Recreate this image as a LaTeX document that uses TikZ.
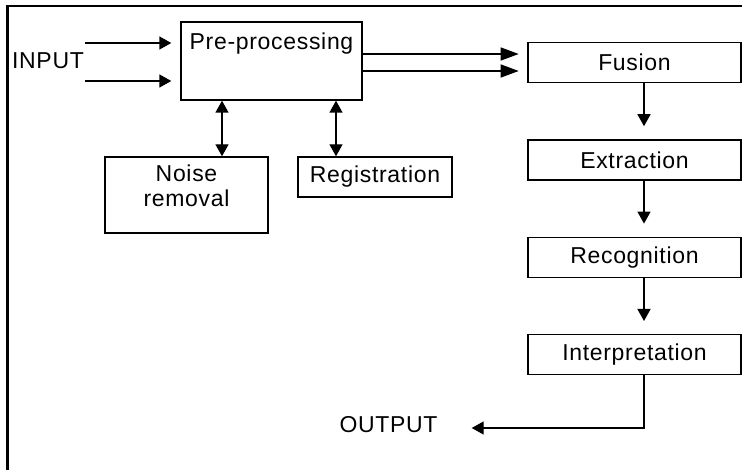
\documentclass[tikz,border=0pt]{standalone}
\usepackage{fontspec}
\setmainfont{Liberation Sans}[LetterSpace=3]
\usetikzlibrary{%
  arrows.meta,%
  calc,%
  positioning}

\begin{document}
\begin{tikzpicture}[x=1pt,y=-1pt,
  font=\fontsize{23}{25}\selectfont,
  blok/.style={rectangle,draw,line width=1.4pt,inner sep=0pt},
  pil/.style={line width=1.4pt,-{Triangle[length=12pt,width=13pt]}},
  lpil/.style={line width=1.4pt,-{Triangle[length=18pt,width=13pt]}},
  dpil/.style={line width=1.4pt,{Triangle[length=12pt,width=13pt]}-{Triangle[length=12pt,width=13pt]}}]
\useasboundingbox (0,0) rectangle (742,470);
% cadre
\draw[line width=2.6pt] (742,6) -- (7.5,6) -- (7.5,470);
% description et nommage des noeuds
\node (inp) at (48,61) [inner sep=0pt] {INPUT};
\node (pre) at (271.5,61) [blok,minimum width=181pt,minimum height=78pt,
  label={[anchor=north,inner sep=0pt,yshift=-11.5pt]north:Pre-processing}] {};
\node (noise) at (186.5,195) [blok,minimum width=163pt,minimum height=76pt,
  label={[anchor=north,align=center,inner sep=0pt,yshift=-8pt]north:{Noise\\removal}}] {};
\node (reg) at (375,177) [blok,minimum width=154pt,minimum height=40pt] {Registration};
\node (fusion) at (634.5,62.5) [blok,minimum width=213pt,minimum height=40pt] {Fusion};
\node (extr) [blok,minimum width=213pt,minimum height=40pt,below=56pt of fusion] {Extraction};
\node (recog) [blok,minimum width=213pt,minimum height=40pt,below=56pt of extr] {Recognition};
\node (interp) [blok,minimum width=213pt,minimum height=40pt,below=56pt of recog] {Interpretation};
\node (outp) at (388.5,425) [inner sep=0pt] {OUTPUT};
\coordinate (a1) at (85,43);
\coordinate (a2) at (85,81);
% fleches
\draw[pil,shorten >=9pt] (a1) -- (a1 -| pre.west);
\draw[pil,shorten >=9pt] (a2) -- (a2 -| pre.west);
\draw[lpil] ([yshift=7pt]pre.east) -- ++(156,0);
\draw[lpil] ([yshift=-10pt]pre.east) -- ++(156,0);
\draw[dpil] ([xshift=35.5pt]noise.north) -- ([xshift=35.5pt]noise.north |- pre.south);
\draw[dpil] ([xshift=-39pt]reg.north) -- ([xshift=-39pt]reg.north |- pre.south);
\foreach \a/\b in {fusion/extr,extr/recog,recog/interp}
  \draw[pil,shorten >=13pt] ([xshift=9.5pt]\a.south) -- ([xshift=9.5pt]\b.north);
\draw[pil] ([xshift=9.5pt]interp.south) |- ([xshift=34pt,yshift=-3pt]outp.east);
\end{tikzpicture}
\end{document}
